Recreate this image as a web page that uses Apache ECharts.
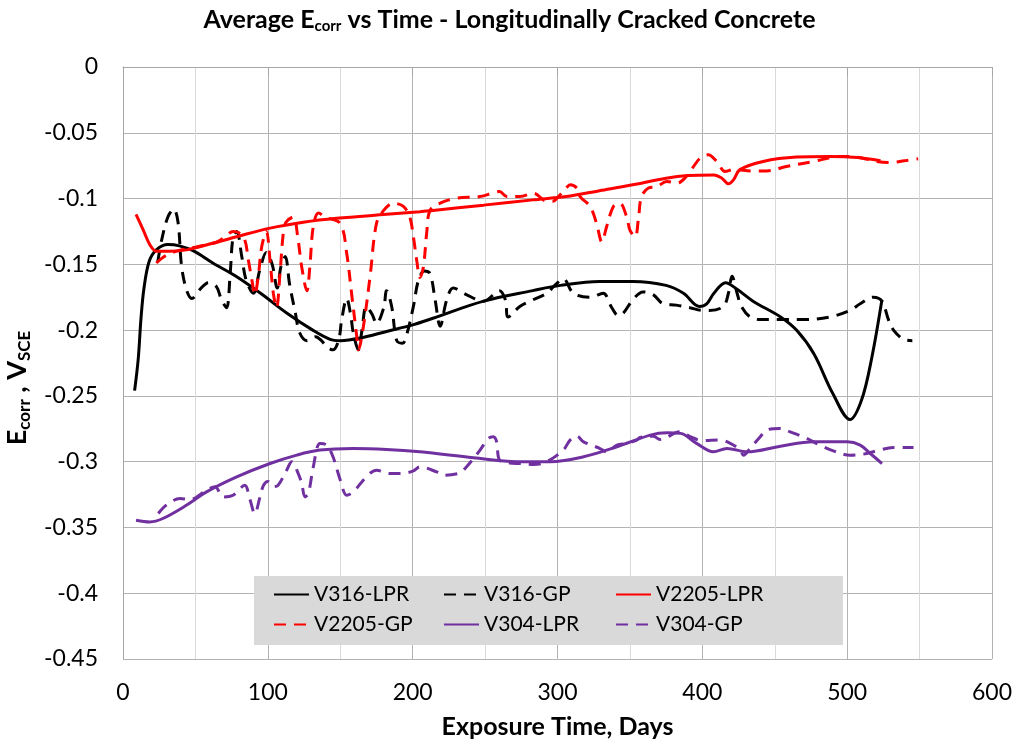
<!DOCTYPE html>
<html><head><meta charset="utf-8">
<script src="https://cdn.jsdelivr.net/npm/echarts@6/dist/echarts.min.js"></script>
<style>html,body{margin:0;padding:0;background:#fff}#c{width:1019px;height:744px}</style>
</head><body><div id="c"></div>
<script>
const xTicks = [0, 100, 200, 300, 400, 500, 600];
const yTicks = [0, -0.05, -0.1, -0.15, -0.2, -0.25, -0.3, -0.35, -0.4, -0.45];
const seriesNames = ['V316-LPR', 'V316-GP', 'V2205-LPR', 'V2205-GP', 'V304-LPR', 'V304-GP'];

const v316Lpr = [[8,-0.246],[10.5,-0.222],[12.5,-0.19],[14.5,-0.168],[18,-0.148],[23,-0.139],[31,-0.135],[39,-0.136],[49,-0.140],[62,-0.149],[78,-0.159],[95,-0.172],[113,-0.187],[131,-0.200],[143,-0.207],[150,-0.208],[164,-0.206],[182,-0.201],[200,-0.196],[214,-0.191],[249,-0.178],[283,-0.170],[302,-0.166],[329,-0.163],[352,-0.163],[375,-0.166],[387,-0.172],[398,-0.182],[403,-0.180],[408,-0.172],[416,-0.164],[424,-0.169],[435,-0.178],[454,-0.190],[465,-0.200],[477,-0.218],[490,-0.248],[502,-0.268],[510,-0.253],[517,-0.221],[524,-0.177]];

const v316Gp = [[24,-0.148],[27,-0.130],[31,-0.114],[35,-0.108],[38,-0.118],[40.5,-0.152],[44,-0.170],[47.5,-0.176],[54,-0.168],[59,-0.164],[64.5,-0.167],[68,-0.177],[71.5,-0.183],[74,-0.157],[76,-0.129],[78.5,-0.125],[82,-0.144],[85,-0.162],[90,-0.172],[94.5,-0.154],[99,-0.141],[103,-0.150],[106.5,-0.168],[109,-0.152],[112,-0.144],[115,-0.165],[119,-0.187],[122,-0.202],[127,-0.208],[133,-0.205],[137,-0.208],[141,-0.213],[145,-0.215],[149,-0.207],[151,-0.192],[154.5,-0.176],[157,-0.187],[159,-0.202],[162.5,-0.215],[165,-0.200],[168,-0.182],[172,-0.188],[175,-0.195],[180,-0.183],[182,-0.170],[185.5,-0.182],[189,-0.208],[193,-0.210],[196,-0.203],[200.5,-0.182],[204,-0.162],[208,-0.155],[212,-0.157],[215.5,-0.177],[219,-0.197],[223.5,-0.177],[228,-0.168],[237,-0.173],[249,-0.178],[260,-0.170],[264,-0.177],[266,-0.190],[274,-0.182],[283,-0.177],[292.5,-0.172],[299,-0.165],[304,-0.161],[311,-0.172],[322.5,-0.175],[331.5,-0.172],[337.5,-0.183],[342,-0.189],[345.5,-0.187],[352,-0.177],[359,-0.171],[366,-0.173],[373,-0.180],[382,-0.181],[391.5,-0.183],[400,-0.185],[405,-0.185],[414.5,-0.182],[418,-0.172],[420.5,-0.159],[424,-0.172],[427,-0.182],[433,-0.190],[440,-0.192],[454,-0.192],[470,-0.192],[488,-0.190],[502,-0.185],[509,-0.180],[518,-0.175],[524,-0.178],[528.5,-0.192],[532,-0.200],[539,-0.207],[545,-0.208]];

const v2205Lpr = [[9,-0.112],[14,-0.124],[18.5,-0.135],[23,-0.140],[32,-0.140],[44,-0.139],[62,-0.134],[78.5,-0.129],[101.5,-0.1225],[124.5,-0.118],[147.5,-0.115],[182,-0.112],[205,-0.110],[214,-0.109],[249,-0.105],[283,-0.101],[306,-0.0985],[329,-0.094],[352,-0.0895],[375,-0.0845],[390,-0.0825],[408,-0.082],[413.5,-0.0845],[418,-0.0888],[421.5,-0.0858],[426,-0.078],[442,-0.0718],[465,-0.0685],[488,-0.068],[507,-0.0688],[523,-0.0713]];

const v2205Gp = [[23,-0.149],[30,-0.143],[40,-0.139],[50,-0.137],[58,-0.135],[65,-0.133],[71.5,-0.128],[76,-0.125],[80,-0.126],[84,-0.131],[86.6,-0.147],[89,-0.162],[91,-0.173],[93.4,-0.159],[95.8,-0.1365],[99,-0.125],[101.5,-0.147],[103.8,-0.172],[106,-0.183],[108.4,-0.157],[110.7,-0.126],[112.5,-0.118],[117.6,-0.114],[120.5,-0.128],[123.4,-0.152],[127,-0.170],[129,-0.152],[131.4,-0.121],[135,-0.111],[139.5,-0.114],[150,-0.119],[154.5,-0.142],[157.8,-0.172],[161.4,-0.205],[162.5,-0.215],[166,-0.197],[170.6,-0.159],[175,-0.119],[180,-0.109],[186.7,-0.1035],[193.6,-0.106],[198,-0.114],[200.5,-0.129],[202.8,-0.147],[205,-0.160],[207.4,-0.152],[209.7,-0.126],[212,-0.109],[219,-0.1035],[230.5,-0.0997],[246.5,-0.0985],[256,-0.0955],[260,-0.0947],[265,-0.0985],[274,-0.0985],[283.4,-0.096],[292.6,-0.102],[297,-0.102],[300.6,-0.0985],[306,-0.092],[308.7,-0.0896],[313.3,-0.092],[315.6,-0.0985],[322.5,-0.106],[327,-0.119],[330.6,-0.133],[334,-0.121],[338.6,-0.106],[343,-0.1035],[347.8,-0.114],[350,-0.124],[353.6,-0.129],[356,-0.114],[358,-0.0985],[362.8,-0.092],[368.6,-0.091],[375.5,-0.087],[382.4,-0.0883],[389,-0.0832],[394,-0.0756],[398.5,-0.0693],[404,-0.0667],[410,-0.0718],[415.7,-0.0794],[421.5,-0.078],[435,-0.079],[444.3,-0.079],[458,-0.0756],[476.7,-0.0718],[495,-0.068],[506.7,-0.0685],[520.5,-0.0718],[529.7,-0.0726],[541,-0.071],[549,-0.0698]];

const v304Lpr = [[9,-0.3445],[18.5,-0.3458],[27.5,-0.3432],[44,-0.333],[57.7,-0.323],[78.5,-0.3116],[101.5,-0.3014],[120,-0.295],[136,-0.2912],[159,-0.290],[182,-0.2907],[205,-0.2925],[242,-0.297],[272,-0.300],[295,-0.300],[318,-0.2963],[341,-0.2887],[364,-0.2798],[375.5,-0.278],[385,-0.2785],[396,-0.2861],[407.7,-0.2925],[417,-0.290],[431,-0.2925],[454,-0.2882],[477,-0.2849],[500,-0.2849],[509,-0.2874],[516,-0.2938],[524,-0.3014]];

const v304Gp = [[24.4,-0.3394],[30,-0.333],[39.4,-0.328],[46,-0.3288],[57.7,-0.3217],[63.5,-0.319],[69.3,-0.3268],[76,-0.3255],[84,-0.318],[87.7,-0.329],[91,-0.3394],[94.6,-0.3268],[97,-0.318],[100,-0.315],[103.8,-0.319],[107,-0.318],[113,-0.3065],[116.5,-0.300],[121,-0.309],[123.4,-0.3166],[125.7,-0.3268],[128,-0.3242],[131.4,-0.304],[136,-0.2862],[140.6,-0.2874],[145,-0.2963],[150,-0.314],[154.5,-0.3255],[159,-0.323],[168,-0.3116],[175,-0.3065],[184.4,-0.309],[192,-0.309],[200.5,-0.307],[205,-0.304],[216.6,-0.3078],[221,-0.3103],[231.6,-0.309],[235,-0.3065],[242,-0.2976],[246.5,-0.2912],[252.3,-0.2823],[255.7,-0.281],[258,-0.2849],[260,-0.2989],[267,-0.301],[274,-0.3014],[283.4,-0.3021],[292.6,-0.300],[304,-0.2912],[308.7,-0.2836],[313.3,-0.2806],[318,-0.2849],[329.4,-0.290],[334,-0.2925],[341,-0.2874],[347.8,-0.2861],[354.7,-0.2836],[357,-0.2816],[366.2,-0.2806],[370.8,-0.2831],[384.7,-0.2773],[391.6,-0.281],[400,-0.284],[412.4,-0.2836],[419.3,-0.2861],[426.2,-0.2912],[428.4,-0.2951],[433,-0.290],[440,-0.281],[444.5,-0.276],[453.7,-0.2747],[460.6,-0.2773],[472,-0.2823],[481,-0.2874],[490.5,-0.2918],[502,-0.2951],[511,-0.2943],[520.5,-0.2918],[532,-0.2892],[545.8,-0.2892]];

const FONT = 'Lato, "Open Sans", sans-serif';
const dash = [12, 8];
function mk(name, data, color, dashed) {
  return {
    name, type: 'line', data, smooth: 0.35, symbol: 'none', showSymbol: false,
    lineStyle: { color, width: 3, type: dashed ? dash : 'solid', cap: 'butt' },
    itemStyle: { color }, z: 5
  };
}
const chart = echarts.init(document.getElementById('c'), null, { renderer: 'canvas' });
const legendCommon = {
  orient: 'vertical', itemWidth: 35, itemHeight: 20, itemGap: 9,
  textStyle: { fontFamily: FONT, fontSize: 21, color: '#000' }, z: 10,
  itemStyle: { opacity: 0 }, selectedMode: false
};
chart.setOption({
  animation: false,
  title: {
    text: '{b|Average E}{s|corr}{b| vs Time - Longitudinally Cracked Concrete}',
    left: 'center', top: 0,
    textStyle: {
      rich: {
        b: { fontFamily: FONT, fontSize: 25, fontWeight: 'bold', color: '#000', lineHeight: 30 },
        s: { fontFamily: FONT, fontSize: 15, fontWeight: 'bold', color: '#000', lineHeight: 30, padding: [12, 0, 0, 0] }
      }
    }
  },
  grid: { left: 123, right: 27, top: 67, bottom: 85, containLabel: false, outerBoundsMode: 'none' },
  xAxis: {
    type: 'value', min: 0, max: 600, interval: 100,
    name: 'Exposure Time, Days', nameLocation: 'middle', nameGap: 55,
    nameTextStyle: { fontFamily: FONT, fontSize: 25, fontWeight: 'bold', color: '#000' },
    axisLine: { show: true, lineStyle: { color: '#a6a6a6', width: 1 } },
    axisTick: { show: true, inside: false, length: 9, lineStyle: { color: '#a6a6a6' } },
    minorTick: { show: false, splitNumber: 2 },
    minorSplitLine: { show: true, lineStyle: { color: '#d9d9d9', width: 1 } },
    axisLabel: { fontFamily: FONT, fontSize: 23, color: '#000', margin: 22 },
    splitLine: { show: true, lineStyle: { color: '#b3b3b3', width: 1 } }
  },
  yAxis: {
    type: 'value', min: -0.45, max: 0, interval: 0.05,
    name: '{b|E}{s|corr}{b| , V}{s|SCE}', nameLocation: 'middle', nameGap: 80, nameRotate: 90,
    nameTextStyle: {
      padding: [0, 50, 0, 0],
      rich: {
        b: { fontFamily: FONT, fontSize: 27, fontWeight: 'bold', color: '#000', lineHeight: 34 },
        s: { fontFamily: FONT, fontSize: 17, fontWeight: 'bold', color: '#000', lineHeight: 34, padding: [14, 0, 0, 0] }
      }
    },
    axisLine: { show: true, lineStyle: { color: '#a6a6a6', width: 1 } },
    axisTick: { show: false },
    axisLabel: { fontFamily: FONT, fontSize: 23, color: '#000', margin: 25,
      formatter: v => { const r = Math.round(v * 100) / 100; const t = yTicks.find(k => Math.abs(k - r) < 1e-9); return t === undefined ? '' : String(t); } },
    splitLine: { show: true, lineStyle: { color: '#b3b3b3', width: 1 } }
  },
  legend: [
    Object.assign({}, legendCommon, { left: 268, top: 579, data: [seriesNames[0], seriesNames[3]] }),
    Object.assign({}, legendCommon, { left: 438, top: 579, data: [seriesNames[1], seriesNames[4]] }),
    Object.assign({}, legendCommon, { left: 610, top: 579, data: [seriesNames[2], seriesNames[5]] })
  ],
  graphic: [{
    type: 'rect', left: 254, top: 576, z: 8,
    shape: { width: 589, height: 69 },
    style: { fill: '#d9d9d9' }
  }],
  series: [
    mk(seriesNames[0], v316Lpr, '#000000', false),
    mk(seriesNames[1], v316Gp, '#000000', true),
    mk(seriesNames[2], v2205Lpr, '#ff0000', false),
    mk(seriesNames[3], v2205Gp, '#ff0000', true),
    mk(seriesNames[4], v304Lpr, '#7030a0', false),
    mk(seriesNames[5], v304Gp, '#7030a0', true)
  ]
});
</script></body></html>
